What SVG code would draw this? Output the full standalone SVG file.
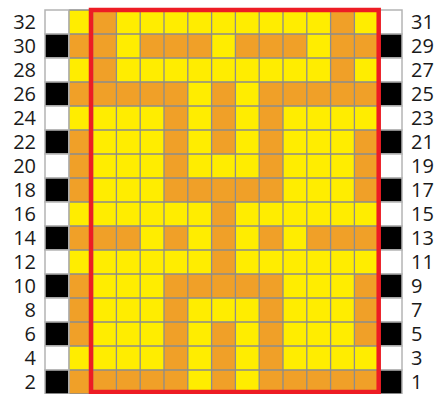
<svg xmlns="http://www.w3.org/2000/svg" width="436" height="394" viewBox="0 0 436 394">
<defs>
<style>
.o{fill:#F0A028}
.b{fill:#000;stroke:#b4b4b4;stroke-width:1.5}
.w{fill:#fff;stroke:#b4b4b4;stroke-width:1.5}
.g{stroke:#8c8c8c;stroke-width:1.3;fill:none}
.l{font-family:"Open Sans","DejaVu Sans",sans-serif;font-size:20px;fill:#1a1a1a}
.le{text-anchor:end}
</style>
</defs>
<rect width="436" height="394" fill="#fff"/>
<g id="pattern">
<rect x="68.8" y="10" width="309.4" height="384" fill="#FFED00"/>
<g id="orange">
<rect class="o" x="92.6" y="10" width="23.8" height="24"/><rect class="o" x="330.6" y="10" width="23.8" height="24"/>
<rect class="o" x="68.8" y="34" width="47.6" height="24"/><rect class="o" x="140.2" y="34" width="71.4" height="24"/><rect class="o" x="235.4" y="34" width="71.4" height="24"/><rect class="o" x="330.6" y="34" width="47.6" height="24"/>
<rect class="o" x="92.6" y="58" width="23.8" height="24"/><rect class="o" x="330.6" y="58" width="23.8" height="24"/>
<rect class="o" x="68.8" y="82" width="119" height="24"/><rect class="o" x="211.6" y="82" width="23.8" height="24"/><rect class="o" x="259.2" y="82" width="119" height="24"/>
<rect class="o" x="164" y="106" width="23.8" height="24"/><rect class="o" x="211.6" y="106" width="23.8" height="24"/><rect class="o" x="259.2" y="106" width="23.8" height="24"/>
<rect class="o" x="68.8" y="130" width="23.8" height="24"/><rect class="o" x="164" y="130" width="23.8" height="24"/><rect class="o" x="211.6" y="130" width="23.8" height="24"/><rect class="o" x="259.2" y="130" width="23.8" height="24"/><rect class="o" x="354.4" y="130" width="23.8" height="24"/>
<rect class="o" x="68.8" y="154" width="23.8" height="24"/><rect class="o" x="164" y="154" width="23.8" height="24"/><rect class="o" x="259.2" y="154" width="23.8" height="24"/><rect class="o" x="354.4" y="154" width="23.8" height="24"/>
<rect class="o" x="68.8" y="178" width="23.8" height="24"/><rect class="o" x="164" y="178" width="119" height="24"/><rect class="o" x="354.4" y="178" width="23.8" height="24"/>
<rect class="o" x="211.6" y="202" width="23.8" height="24"/>
<rect class="o" x="68.8" y="226" width="71.4" height="24"/><rect class="o" x="164" y="226" width="23.8" height="24"/><rect class="o" x="211.6" y="226" width="23.8" height="24"/><rect class="o" x="259.2" y="226" width="23.8" height="24"/><rect class="o" x="306.8" y="226" width="71.4" height="24"/>
<rect class="o" x="211.6" y="250" width="23.8" height="24"/>
<rect class="o" x="68.8" y="274" width="23.8" height="24"/><rect class="o" x="164" y="274" width="119" height="24"/><rect class="o" x="354.4" y="274" width="23.8" height="24"/>
<rect class="o" x="68.8" y="298" width="23.8" height="24"/><rect class="o" x="164" y="298" width="23.8" height="24"/><rect class="o" x="259.2" y="298" width="23.8" height="24"/><rect class="o" x="354.4" y="298" width="23.8" height="24"/>
<rect class="o" x="68.8" y="322" width="23.8" height="24"/><rect class="o" x="164" y="322" width="23.8" height="24"/><rect class="o" x="211.6" y="322" width="23.8" height="24"/><rect class="o" x="259.2" y="322" width="23.8" height="24"/><rect class="o" x="354.4" y="322" width="23.8" height="24"/>
<rect class="o" x="164" y="346" width="23.8" height="24"/><rect class="o" x="211.6" y="346" width="23.8" height="24"/><rect class="o" x="259.2" y="346" width="23.8" height="24"/>
<rect class="o" x="68.8" y="370" width="119" height="24"/><rect class="o" x="211.6" y="370" width="23.8" height="24"/><rect class="o" x="259.2" y="370" width="119" height="24"/>
</g>
<path class="g" d="M68.8 10V394M92.6 10V394M116.4 10V394M140.2 10V394M164 10V394M187.8 10V394M211.6 10V394M235.4 10V394M259.2 10V394M283 10V394M306.8 10V394M330.6 10V394M354.4 10V394M378.2 10V394M68.8 10H378.2M68.8 34H378.2M68.8 58H378.2M68.8 82H378.2M68.8 106H378.2M68.8 130H378.2M68.8 154H378.2M68.8 178H378.2M68.8 202H378.2M68.8 226H378.2M68.8 250H378.2M68.8 274H378.2M68.8 298H378.2M68.8 322H378.2M68.8 346H378.2M68.8 370H378.2M68.8 394H378.2"/>
</g>
<g id="left-markers">
<rect class="w" x="45" y="10" width="23.8" height="24"/><rect class="b" x="45" y="34" width="23.8" height="24"/>
<rect class="w" x="45" y="58" width="23.8" height="24"/><rect class="b" x="45" y="82" width="23.8" height="24"/>
<rect class="w" x="45" y="106" width="23.8" height="24"/><rect class="b" x="45" y="130" width="23.8" height="24"/>
<rect class="w" x="45" y="154" width="23.8" height="24"/><rect class="b" x="45" y="178" width="23.8" height="24"/>
<rect class="w" x="45" y="202" width="23.8" height="24"/><rect class="b" x="45" y="226" width="23.8" height="24"/>
<rect class="w" x="45" y="250" width="23.8" height="24"/><rect class="b" x="45" y="274" width="23.8" height="24"/>
<rect class="w" x="45" y="298" width="23.8" height="24"/><rect class="b" x="45" y="322" width="23.8" height="24"/>
<rect class="w" x="45" y="346" width="23.8" height="24"/><rect class="b" x="45" y="370" width="23.8" height="24"/>
</g>
<g id="right-markers">
<rect class="w" x="378.2" y="10" width="23.8" height="24"/><rect class="b" x="378.2" y="34" width="23.8" height="24"/>
<rect class="w" x="378.2" y="58" width="23.8" height="24"/><rect class="b" x="378.2" y="82" width="23.8" height="24"/>
<rect class="w" x="378.2" y="106" width="23.8" height="24"/><rect class="b" x="378.2" y="130" width="23.8" height="24"/>
<rect class="w" x="378.2" y="154" width="23.8" height="24"/><rect class="b" x="378.2" y="178" width="23.8" height="24"/>
<rect class="w" x="378.2" y="202" width="23.8" height="24"/><rect class="b" x="378.2" y="226" width="23.8" height="24"/>
<rect class="w" x="378.2" y="250" width="23.8" height="24"/><rect class="b" x="378.2" y="274" width="23.8" height="24"/>
<rect class="w" x="378.2" y="298" width="23.8" height="24"/><rect class="b" x="378.2" y="322" width="23.8" height="24"/>
<rect class="w" x="378.2" y="346" width="23.8" height="24"/><rect class="b" x="378.2" y="370" width="23.8" height="24"/>
</g>
<rect id="highlight" x="91" y="10" width="287.7" height="382" fill="none" stroke="#ED1C24" stroke-width="4.5"/>
<g id="left-labels" class="l le">
<text x="36" y="29">32</text><text x="36" y="53">30</text><text x="36" y="77">28</text><text x="36" y="101">26</text>
<text x="36" y="125">24</text><text x="36" y="149">22</text><text x="36" y="173">20</text><text x="36" y="197">18</text>
<text x="36" y="221">16</text><text x="36" y="245">14</text><text x="36" y="269">12</text><text x="36" y="293">10</text>
<text x="36" y="317">8</text><text x="36" y="341">6</text><text x="36" y="365">4</text><text x="36" y="389">2</text>
</g>
<g id="right-labels" class="l">
<text x="411" y="29">31</text><text x="411" y="53">29</text><text x="411" y="77">27</text><text x="411" y="101">25</text>
<text x="411" y="125">23</text><text x="411" y="149">21</text><text x="411" y="173">19</text><text x="411" y="197">17</text>
<text x="411" y="221">15</text><text x="411" y="245">13</text><text x="411" y="269">11</text><text x="411" y="293">9</text>
<text x="411" y="317">7</text><text x="411" y="341">5</text><text x="411" y="365">3</text><text x="411" y="389">1</text>
</g>
</svg>
